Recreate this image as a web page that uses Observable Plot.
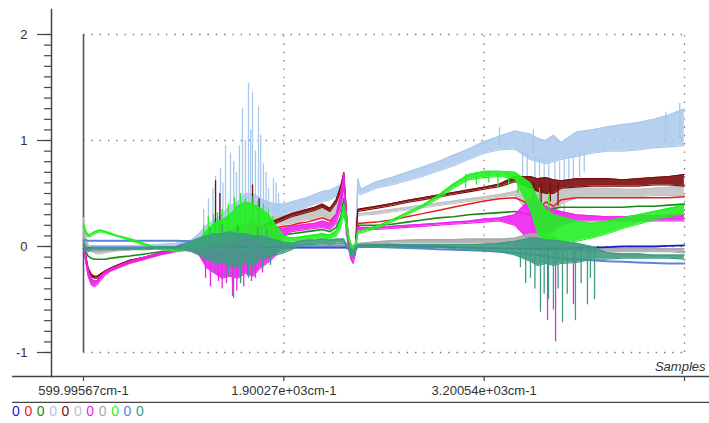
<!DOCTYPE html>
<html>
<head>
<meta charset="utf-8">
<script src="https://cdn.jsdelivr.net/npm/d3@7"></script>
<script src="https://cdn.jsdelivr.net/npm/@observablehq/plot@0.6"></script>
<style>
  html, body { margin: 0; padding: 0; background: #fff; }
  #wrap { position: relative; width: 709px; height: 423px; overflow: hidden; font-family: "Liberation Sans", Arial, sans-serif; }
  #legend { position: absolute; left: 12px; top: 403px; font-size: 14px; line-height: 16px; white-space: nowrap; }
  #legend span { display: inline-block; width: 12.4px; }
</style>
</head>
<body>
<div id="wrap"><div id="legend"></div></div>
<script>
// Sample wavenumbers (cm-1)
const wn = [600,615,630,650,670,690,710,740,780,830,900,1000,1100,1200,1300,1350,1400,1450,1500,1550,1600,1650,1700,1750,1800,1850,1900,1950,2000,2050,2100,2150,2200,2240,2270,2290,2305,2320,2335,2350,2365,2380,2400,2500,2600,2700,2800,2900,3000,3100,3200,3300,3400,3500,3550,3600,3650,3700,3800,3900,4000,4100,4200,4300,4400,4500];

// Axis ticks and labels
const xTicks = [599.99567, 1900.27, 3200.54, 4500.81];
const xLabels = ["599.99567cm-1", "1.90027e+03cm-1", "3.20054e+03cm-1", ""];
const yTicks = [-1, 0, 1, 2];
const legendLabels = ["0","0","0","0","0","0","0","0","0","0","0"];
const colors = ["#1a1ad0","#e81c1c","#168a16","#a9c8ec","#7d0c0c","#c2c2c2","#f022f0","#a8a8a8","#22f022","#5a86d8","#3f9b82"];

// Series 1: blue
const blue = [-0.02,-0.02,-0.015,-0.01,-0.01,-0.01,-0.01,-0.01,-0.01,-0.01,
  -0.01,-0.01,-0.01,-0.005,0,0,0,0,0,0,
  0,0,0,0,-0.005,-0.005,-0.01,-0.01,-0.01,-0.01,
  -0.01,-0.01,-0.01,-0.01,-0.01,-0.01,-0.01,-0.02,-0.03,-0.03,
  -0.02,0.01,0.01,0.01,0.01,0.005,0,0,-0.005,-0.01,
  -0.015,-0.02,-0.02,-0.02,-0.02,-0.02,-0.02,-0.02,-0.015,-0.01,
  -0.005,0,0,0,0.005,0.01];
// Series 2: red
const red = [0.02,-0.12,-0.24,-0.31,-0.33,-0.32,-0.29,-0.25,-0.22,-0.19,
  -0.15,-0.11,-0.07,-0.04,-0.01,0.01,0.03,0.04,0.06,0.08,
  0.1,0.12,0.14,0.16,0.17,0.18,0.19,0.2,0.22,0.23,
  0.25,0.27,0.24,0.3,0.42,0.6,0.3,0.05,-0.02,-0.05,
  -0.02,0.22,0.22,0.23,0.25,0.28,0.31,0.34,0.37,0.4,
  0.43,0.45,0.46,0.4,0.35,0.42,0.38,0.44,0.46,0.46,
  0.46,0.46,0.46,0.46,0.46,0.47];
// Series 3: dark green
const darkGreen = [0,-0.05,-0.09,-0.11,-0.12,-0.12,-0.12,-0.12,-0.11,-0.1,
  -0.09,-0.07,-0.05,-0.03,-0.01,0,0.01,0.02,0.03,0.04,
  0.05,0.06,0.07,0.08,0.09,0.1,0.11,0.12,0.13,0.14,
  0.15,0.16,0.14,0.18,0.28,0.45,0.2,0.03,-0.03,-0.05,
  -0.02,0.2,0.2,0.2,0.21,0.23,0.25,0.27,0.28,0.3,
  0.31,0.32,0.33,0.3,0.28,0.35,0.36,0.37,0.37,0.37,
  0.37,0.37,0.38,0.38,0.39,0.4];
// Series 4: light blue (noise band low / high)
const lightBlueLo = [0,0,0,0,0,0,0,0,0,0,
  0,0,0.01,0.01,0.02,0.03,0.05,0.06,0.08,0.1,
  0.12,0.15,0.18,0.2,0.22,0.25,0.3,0.32,0.34,0.37,
  0.4,0.42,0.44,0.47,0.5,0.5,0.1,0.02,0,-0.02,
  0,0.5,0.49,0.55,0.58,0.62,0.66,0.71,0.76,0.82,
  0.88,0.91,0.92,0.82,0.8,0.78,0.8,0.82,0.85,0.88,
  0.9,0.9,0.91,0.93,0.94,0.95];
const lightBlueHi = [0.02,0.02,0.01,0.01,0.01,0.01,0.01,0.01,0.01,0.01,
  0.01,0.01,0.02,0.03,0.06,0.12,0.2,0.25,0.3,0.38,
  0.42,0.5,0.5,0.45,0.42,0.4,0.4,0.42,0.44,0.46,
  0.49,0.52,0.53,0.56,0.58,0.6,0.3,0.05,0.02,0,
  0.02,0.64,0.54,0.61,0.65,0.7,0.75,0.8,0.86,0.92,
  0.99,1.04,1.09,1.06,1.02,1,1.05,0.98,1.08,1.1,
  1.13,1.15,1.17,1.2,1.24,1.3];
const lightBlueSpikes = [[1380,0.1,0.35],[1411,0.15,0.45],[1440,0.15,0.55],[1457,0.15,0.66],[1489,0.15,0.74],[1505,0.15,0.6],[1522,0.2,0.95],[1554,0.2,0.88],[1575,0.2,0.8],[1593,0.25,0.7],[1612,0.25,0.95],[1632,0.25,1.3],[1651,0.3,1.0],[1671,0.3,1.54],[1685,0.3,1.1],[1697,0.3,1.45],[1716,0.3,0.9],[1736,0.3,1.32],[1750,0.3,1.05],[1768,0.3,0.78],[1785,0.3,0.7],[1801,0.3,0.55],[1833,0.3,0.64],[1850,0.3,0.6],[1866,0.3,0.5],[3300,0.95,1.12],[3450,0.9,0.55],[3480,0.9,0.6],[3520,0.9,1.1],[3530,0.85,0.5],[3560,0.85,0.45],[3590,0.85,0.55],[3620,0.8,0.42],[3660,0.8,0.5],[3690,0.8,0.48],[3720,0.85,0.55],[3750,0.85,0.6],[3780,0.85,0.62],[3820,0.9,0.65],[3850,0.9,0.7],[4380,1.0,1.27],[4470,1.0,1.35]];
// Series 5: maroon
const maroonLo = [0.04,-0.1,-0.22,-0.28,-0.3,-0.3,-0.28,-0.25,-0.22,-0.19,
  -0.15,-0.11,-0.07,-0.04,-0.01,0,0.02,0.04,0.06,0.08,
  0.1,0.12,0.14,0.16,0.19,0.22,0.25,0.28,0.3,0.32,
  0.34,0.37,0.33,0.41,0.53,0.67,0.32,0.04,-0.03,-0.05,
  -0.02,0.33,0.335,0.36,0.385,0.415,0.44,0.465,0.49,0.515,
  0.54,0.565,0.61,0.55,0.52,0.5,0.5,0.55,0.56,0.57,
  0.57,0.57,0.57,0.58,0.58,0.57];
const maroonHi = [0.06,-0.08,-0.2,-0.26,-0.28,-0.28,-0.26,-0.23,-0.2,-0.17,
  -0.13,-0.1,-0.06,-0.03,0,0.02,0.04,0.06,0.09,0.11,
  0.13,0.15,0.17,0.19,0.22,0.25,0.28,0.31,0.33,0.35,
  0.37,0.4,0.36,0.44,0.57,0.7,0.36,0.06,-0.01,-0.03,
  0,0.35,0.355,0.38,0.405,0.435,0.46,0.485,0.51,0.535,
  0.56,0.59,0.66,0.66,0.64,0.65,0.63,0.62,0.64,0.64,
  0.64,0.63,0.64,0.65,0.66,0.68];
const maroonSpikes = [[1457,0.05,0.62],[1485,0.08,0.5],[1697,0.15,0.58],[1740,0.18,0.45],[3520,0.6,0.4],[3570,0.6,0.36],[3630,0.6,0.42],[3680,0.6,0.38]];
// Series 6: silver (upper grey)
const silverLo = [0.1,0.05,0,-0.04,-0.06,-0.07,-0.07,-0.06,-0.05,-0.04,
  -0.03,-0.02,-0.01,0,0,0.02,0.04,0.06,0.08,0.1,
  0.12,0.14,0.16,0.18,0.19,0.2,0.21,0.22,0.23,0.25,
  0.26,0.28,0.25,0.3,0.4,0.5,0.2,0.02,-0.03,-0.05,
  -0.02,0.285,0.295,0.305,0.325,0.345,0.365,0.385,0.405,0.425,
  0.445,0.465,0.485,0.3,0.2,0.25,0.3,0.4,0.46,0.47,
  0.47,0.47,0.47,0.48,0.48,0.48];
const silverHi = [0.27,0.1,0.02,-0.02,-0.04,-0.05,-0.05,-0.05,-0.04,-0.03,
  -0.02,-0.01,0,0.01,0.03,0.06,0.09,0.12,0.15,0.17,
  0.2,0.22,0.24,0.26,0.27,0.28,0.29,0.3,0.31,0.33,
  0.35,0.38,0.34,0.42,0.53,0.64,0.3,0.05,0,-0.02,
  0,0.31,0.31,0.33,0.35,0.37,0.39,0.41,0.43,0.45,
  0.47,0.49,0.52,0.6,0.58,0.6,0.58,0.56,0.55,0.55,
  0.55,0.54,0.54,0.55,0.56,0.57];
const silverSpikes = [[3510,0.4,0.12],[3560,0.4,0.08],[3610,0.4,0.15],[3660,0.4,0.1],[3720,0.45,0.2]];
// Series 7: magenta
const magentaLo = [0,-0.15,-0.28,-0.36,-0.38,-0.36,-0.32,-0.27,-0.23,-0.2,
  -0.16,-0.12,-0.08,-0.05,-0.03,-0.08,-0.2,-0.25,-0.3,-0.28,
  -0.3,-0.25,-0.28,-0.2,-0.15,-0.08,0.1,0.14,0.15,0.16,
  0.17,0.18,0.16,0.22,0.35,0.6,0.2,0,-0.12,-0.16,
  -0.08,0.16,0.16,0.16,0.17,0.18,0.19,0.2,0.21,0.22,
  0.23,0.24,0.2,0.05,0,0.08,0.15,0.2,0.24,0.24,
  0.24,0.24,0.24,0.24,0.24,0.24];
const magentaHi = [0.05,-0.1,-0.22,-0.3,-0.33,-0.32,-0.28,-0.24,-0.21,-0.18,
  -0.14,-0.1,-0.06,-0.03,0,0.02,0.08,0.1,0.12,0.15,
  0.18,0.2,0.22,0.2,0.18,0.18,0.17,0.19,0.2,0.21,
  0.22,0.24,0.22,0.3,0.5,0.69,0.35,0.05,-0.05,-0.1,
  0,0.19,0.18,0.18,0.19,0.2,0.21,0.22,0.23,0.24,
  0.26,0.27,0.3,0.45,0.42,0.38,0.35,0.33,0.3,0.29,
  0.28,0.28,0.29,0.29,0.3,0.3];
const magentaSpikes = [[1392,0,-0.3],[1424,0,-0.38],[1476,0,-0.33],[1500,0,-0.4],[1528,0,-0.35],[1567,0,-0.47],[1595,0,-0.42],[1619,0,-0.35],[1640,0,-0.38],[1665,0,-0.28],[1690,0,-0.33],[1716,0,-0.3],[1762,0,-0.25],[3612,0,-0.7],[3664,0,-0.9],[3780,0,-0.55]];
// Series 8: grey (lower)
const greyLo = [0.05,0,-0.03,-0.05,-0.05,-0.05,-0.05,-0.04,-0.04,-0.03,
  -0.03,-0.02,-0.02,-0.01,-0.01,-0.02,-0.02,-0.02,-0.02,-0.02,
  -0.02,-0.02,-0.02,-0.02,-0.02,-0.02,-0.02,0,0,0,
  0,0,0,0,0,0,0,-0.02,-0.04,-0.05,
  -0.02,0.01,0.01,0.02,0.03,0.035,0.035,0.035,0.035,0.035,
  0.03,0.02,0.01,-0.02,-0.03,-0.03,-0.03,-0.04,-0.04,-0.05,
  -0.05,-0.05,-0.05,-0.05,-0.05,-0.06];
const greyHi = [0.15,0.04,-0.01,-0.03,-0.03,-0.03,-0.03,-0.03,-0.03,-0.02,
  -0.02,-0.01,-0.01,0,0.01,0.02,0.02,0.02,0.02,0.02,
  0.02,0.02,0.02,0.02,0.02,0.02,0.02,0.02,0.02,0.02,
  0.02,0.02,0.02,0.02,0.02,0.03,0.02,0,-0.02,-0.02,
  0,0.03,0.03,0.045,0.055,0.06,0.065,0.065,0.065,0.07,
  0.07,0.07,0.08,0.12,0.12,0.12,0.1,0.06,0.02,-0.01,
  -0.02,-0.02,-0.02,-0.02,-0.02,-0.02];
// Series 9: lime
const limeLo = [0.19,0.12,0.09,0.1,0.12,0.13,0.14,0.13,0.11,0.09,
  0.06,0.01,-0.03,-0.05,-0.01,-0.02,0,0.02,0.04,0.05,
  0.06,0.08,0.08,0.06,0.04,0.03,0.02,0.04,0.05,0.06,
  0.07,0.08,0.07,0.1,0.18,0.3,0.2,0.08,0,-0.03,
  0,0.12,0.13,0.17,0.23,0.3,0.37,0.45,0.55,0.63,
  0.65,0.66,0.64,0.35,0.12,0.05,0.03,0.03,0.05,0.08,
  0.12,0.17,0.21,0.25,0.28,0.31];
const limeHi = [0.22,0.15,0.11,0.12,0.14,0.15,0.155,0.145,0.125,0.1,
  0.075,0.025,-0.02,-0.035,0.02,0.06,0.15,0.22,0.25,0.3,
  0.38,0.42,0.4,0.36,0.3,0.2,0.1,0.08,0.09,0.1,
  0.11,0.12,0.11,0.15,0.25,0.4,0.3,0.12,0.03,0,
  0.03,0.14,0.15,0.19,0.25,0.32,0.39,0.48,0.59,0.68,
  0.71,0.71,0.7,0.6,0.45,0.35,0.3,0.28,0.24,0.22,
  0.24,0.27,0.3,0.33,0.36,0.39];
const limeSpikes = [[1380,0.05,0.2],[1410,0.05,0.28],[1444,0.1,0.3],[1470,0.08,0.32],[1500,0.1,0.35],[1540,0.1,0.4],[1580,0.1,0.46],[1619,0.1,0.5],[1651,0.1,0.45],[1700,0.1,0.47],[1730,0.1,0.42],[1768,0.1,0.4],[1800,0.08,0.35],[1830,0.05,0.28],[3080,0.68,0.55],[3150,0.7,0.58],[3230,0.7,0.6],[3290,0.7,0.55],[3360,0.7,0.58],[3420,0.68,0.5],[3560,0.1,0.55],[3620,0.05,0.5]];
// Series 10: violet
const violet = [0.06,0.06,0.055,0.055,0.055,0.055,0.055,0.055,0.055,0.055,
  0.055,0.055,0.055,0.055,0.05,0.045,0.04,0.035,0.03,0.025,
  0.02,0.015,0.01,0.01,0.005,0,0,0,0,0,
  0,0,0,0,0,0,0,-0.01,-0.03,-0.04,
  -0.02,0,0,-0.005,-0.01,-0.015,-0.02,-0.025,-0.03,-0.035,
  -0.04,-0.05,-0.06,-0.07,-0.08,-0.09,-0.1,-0.11,-0.12,-0.13,
  -0.14,-0.145,-0.15,-0.155,-0.16,-0.16];
// Series 11: sea green
const seaLo = [-0.02,-0.05,-0.05,-0.03,-0.03,-0.03,-0.03,-0.03,-0.03,-0.03,
  -0.03,-0.03,-0.02,-0.02,-0.05,-0.08,-0.12,-0.15,-0.15,-0.18,
  -0.2,-0.15,-0.18,-0.12,-0.1,-0.08,-0.06,-0.03,0.01,0.02,
  0.02,0.03,0.02,0.03,0.03,0.03,0.01,-0.03,-0.08,-0.1,
  -0.05,-0.01,-0.01,-0.01,-0.01,-0.01,-0.01,-0.01,-0.02,-0.03,
  -0.04,-0.05,-0.08,-0.14,-0.18,-0.16,-0.18,-0.16,-0.15,-0.12,
  -0.12,-0.11,-0.11,-0.11,-0.11,-0.12];
const seaHi = [0.05,0,-0.02,-0.01,-0.01,-0.01,-0.01,-0.01,-0.01,-0.01,
  -0.01,-0.01,0,0,0.05,0.08,0.1,0.12,0.12,0.14,
  0.12,0.12,0.1,0.1,0.08,0.06,0.04,0.03,0.05,0.06,
  0.06,0.07,0.06,0.07,0.07,0.07,0.03,0,-0.02,-0.04,
  0,0.01,0.02,0.02,0.02,0.02,0.02,0.02,0.02,0.02,
  0.02,0.03,0.05,0.08,0.08,0.06,0.06,0.05,0.03,0,
  -0.06,-0.07,-0.07,-0.08,-0.08,-0.08];
const seaSpikes = [[1380,0,-0.15],[1420,0,0.18],[1457,0,-0.25],[1500,0,0.2],[1522,0,-0.3],[1540,0,-0.28],[1574,0,-0.49],[1600,0,0.2],[1620,0,-0.35],[1671,0,-0.3],[1700,0,-0.26],[1730,0,0.18],[1762,0,-0.22],[1790,0,0.15],[1814,0,-0.18],[3436,0,-0.2],[3470,0,-0.35],[3501,0,-0.3],[3530,0,-0.4],[3566,0,-0.62],[3590,0,-0.45],[3618,0,-0.5],[3650,0,-0.6],[3680,0,-0.4],[3709,0,-0.72],[3740,0,-0.45],[3793,0,-0.7],[3830,0,-0.35],[3871,0,-0.55],[3890,0,-0.3],[3917,0,-0.5]];

// ---- build marks ----
function bandMarks(lo, hi, color, spikes, opacity) {
  const rows = wn.map((w, i) => ({w, lo: lo[i], hi: hi[i]}));
  const m = [
    Plot.areaY(rows, {x: "w", y1: "lo", y2: "hi", fill: color, fillOpacity: opacity}),
    Plot.line(rows, {x: "w", y: "lo", stroke: color, strokeWidth: 1.1}),
    Plot.line(rows, {x: "w", y: "hi", stroke: color, strokeWidth: 1.1})
  ];
  if (spikes) m.push(Plot.ruleX(spikes, {x: d => d[0], y1: d => d[1], y2: d => d[2], stroke: color, strokeWidth: 1.3}));
  return m;
}
function lineMarks(vals, color, w) {
  const rows = wn.map((x, i) => ({w: x, v: vals[i]}));
  return [Plot.line(rows, {x: "w", y: "v", stroke: color, strokeWidth: w})];
}
const minorTicks = d3.range(-10, 21).map(i => i / 10);
const dots = "1.4,6.9";

const chart = Plot.plot({
  width: 709,
  height: 403,
  marginLeft: 51,
  marginRight: 25,
  marginTop: 9,
  marginBottom: 27,
  style: {fontFamily: "'Liberation Sans', Arial, sans-serif", fontSize: "13px", color: "#333", background: "white"},
  x: {domain: [xTicks[0], xTicks[3]], range: [83, 684]},
  y: {domain: [-1, 2], range: [352, 34]},
  marks: [
    Plot.frame({anchor: "left", stroke: "#444", strokeWidth: 1.5}),
    Plot.ruleY(yTicks, {x1: xTicks[0], x2: xTicks[3], stroke: "#777", strokeWidth: 1.3, strokeDasharray: dots}),
    Plot.ruleX(xTicks.slice(1), {y1: -1, y2: 2, stroke: "#777", strokeWidth: 1.3, strokeDasharray: dots}),
    Plot.ruleX([xTicks[0]], {y1: -1, y2: 2, stroke: "#555", strokeWidth: 1.6}),
    Plot.axisY(minorTicks, {tickSize: 7, tickFormat: () => "", stroke: "#444", strokeWidth: 1.2, label: null}),
    Plot.axisY(yTicks, {tickSize: 14, tickPadding: 10, tickFormat: d => String(d), stroke: "#444", strokeWidth: 1.2, fontSize: 13, label: null}),
    Plot.axisX(xTicks, {tickSize: 5, tickPadding: 4, tickFormat: d => xLabels[xTicks.indexOf(d)] ?? "", stroke: "#444", strokeWidth: 1.2, fontSize: 13, label: null}),
    ...bandMarks(lightBlueLo, lightBlueHi, colors[3], lightBlueSpikes, 0.85),
    ...bandMarks(silverLo, silverHi, colors[5], silverSpikes, 0.9),
    ...bandMarks(maroonLo, maroonHi, colors[4], maroonSpikes, 0.9),
    ...lineMarks(red, colors[1], 1.5),
    ...lineMarks(darkGreen, colors[2], 1.6),
    ...bandMarks(magentaLo, magentaHi, colors[6], magentaSpikes, 0.9),
    ...bandMarks(greyLo, greyHi, colors[7], null, 0.9),
    ...lineMarks(blue, colors[0], 1.8),
    ...lineMarks(violet, colors[9], 2),
    ...bandMarks(limeLo, limeHi, colors[8], limeSpikes, 0.9),
    ...bandMarks(seaLo, seaHi, colors[10], seaSpikes, 0.9),
    Plot.text(["Samples"], {frameAnchor: "bottom-right", dx: 21, dy: -6, lineAnchor: "bottom", textAnchor: "end", fontStyle: "italic", fontSize: 13, fill: "#333"})
  ]
});

const svg = d3.select(chart);
[376.5, 402.5].forEach(y => {
  svg.append("line").attr("x1", 12).attr("x2", 709).attr("y1", y).attr("y2", y)
    .attr("stroke", "#444").attr("stroke-width", 1.5);
});
document.getElementById("wrap").prepend(chart);

const legend = d3.select("#legend");
legendLabels.forEach((t, i) => legend.append("span").style("color", colors[i]).text(t));
</script>
</body>
</html>
